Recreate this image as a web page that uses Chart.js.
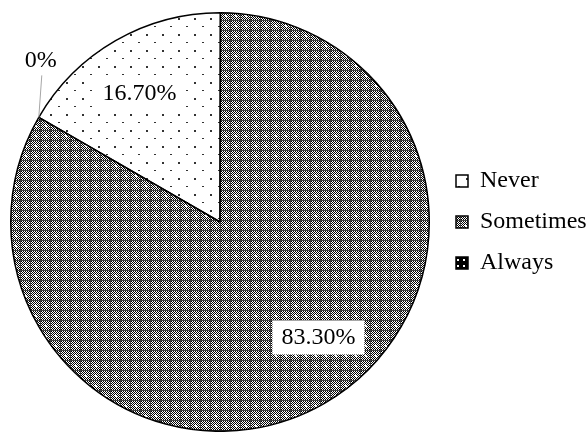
<!DOCTYPE html>
<html>
<head>
<meta charset="utf-8">
<script src="https://cdn.jsdelivr.net/npm/chart.js@4/dist/chart.umd.min.js"></script>
<style>
  html, body { margin: 0; padding: 0; background: #fff; overflow: hidden; }
  canvas { display: block; }
</style>
</head>
<body>
<canvas id="c" width="587" height="432"></canvas>
<script>
// Survey answer shares (percent)
const categories = ['Never', 'Sometimes', 'Always'];
const shares = [16.7, 83.3, 0];

function formatShare(v) {
  return v === 0 ? '0%' : v.toFixed(2) + '%';
}

// Build a repeating fill from a small painted tile
function makePattern(w, h, paint) {
  const c = document.createElement('canvas');
  c.width = w; c.height = h;
  const g = c.getContext('2d');
  paint(g, w, h);
  return g.createPattern(c, 'repeat');
}

// Sparse staggered dots
const dotFill = makePattern(16, 16, (g, w, h) => {
  g.fillStyle = '#fff'; g.fillRect(0, 0, w, h);
  g.fillStyle = '#333';
  g.fillRect(2, 2, 2, 2);
  g.fillRect(10, 10, 2, 1);
});

// Fine checker with dark grid and white spots
const checkFill = makePattern(10, 10, (g, w, h) => {
  g.fillStyle = '#fff'; g.fillRect(0, 0, w, h);
  g.fillStyle = '#000';
  for (let y = 0; y < h; y++) {
    for (let x = 0; x < w; x++) {
      if ((x + y) % 2 === 0) g.fillRect(x, y, 1, 1);
    }
  }
  g.fillStyle = '#444';
  g.fillRect(0, 0, w, 1);
  g.fillRect(0, 0, 1, h);
  g.fillStyle = '#fff';
  g.fillRect(4, 5, 3, 1);
  g.fillRect(5, 4, 1, 3);
  g.fillRect(5, 5, 2, 2);
});

// Dark fill with small white dots
const darkFill = makePattern(6, 6, (g, w, h) => {
  g.fillStyle = '#000'; g.fillRect(0, 0, w, h);
  g.fillStyle = '#fff';
  g.fillRect(1, 1, 2, 2);
});

const sliceLabels = {
  id: 'sliceLabels',
  afterDatasetsDraw(chart, args, opts) {
    const ctx = chart.ctx;
    const meta = chart.getDatasetMeta(0);
    const values = chart.data.datasets[0].data;
    ctx.save();
    ctx.font = opts.font;
    ctx.textAlign = 'center';
    ctx.textBaseline = 'middle';
    meta.data.forEach((arc, i) => {
      const p = arc.getProps(['x', 'y', 'startAngle', 'endAngle', 'outerRadius'], true);
      const text = formatShare(values[i]);
      if (p.endAngle - p.startAngle < 1e-6) {
        // empty slice: label above the rim with a leader line
        const ex = p.x + Math.cos(p.startAngle) * p.outerRadius;
        const ey = p.y + Math.sin(p.startAngle) * p.outerRadius;
        ctx.strokeStyle = '#a6a6a6';
        ctx.lineWidth = 1;
        ctx.beginPath();
        ctx.moveTo(ex, ey);
        ctx.lineTo(ex + 3, ey - 42);
        ctx.stroke();
        ctx.fillStyle = '#000';
        ctx.fillText(text, ex + 2, ey - 57);
      } else {
        const a = p.startAngle + (p.endAngle - p.startAngle) * opts.angleFrac;
        const r = p.outerRadius * opts.radiusFrac;
        const lx = p.x + Math.cos(a) * r;
        const ly = p.y + Math.sin(a) * r;
        const w = ctx.measureText(text).width + 18;
        const h = 34;
        ctx.fillStyle = '#fff';
        ctx.fillRect(lx - w / 2, ly - h / 2, w, h);
        ctx.fillStyle = '#000';
        ctx.fillText(text, lx, ly);
      }
    });
    ctx.restore();
  }
};

new Chart(document.getElementById('c'), {
  type: 'pie',
  data: {
    labels: categories,
    datasets: [{
      data: shares,
      backgroundColor: [dotFill, checkFill, darkFill],
      borderColor: '#000',
      borderWidth: 1.5
    }]
  },
  options: {
    responsive: false,
    animation: false,
    devicePixelRatio: 1,
    rotation: -60,
    layout: { padding: { top: 12, left: 1, right: 0, bottom: 0 } },
    events: [],
    plugins: {
      tooltip: { enabled: false },
      legend: {
        position: 'right',
        maxWidth: 148,
        labels: {
          color: '#000',
          font: { family: 'Liberation Serif', size: 24 },
          boxWidth: 12,
          boxHeight: 12,
          padding: 17
        }
      },
      sliceLabels: {
        font: '24px "Liberation Serif"',
        angleFrac: 0.465,
        radiusFrac: 0.725
      }
    }
  },
  plugins: [sliceLabels]
});
</script>
</body>
</html>
